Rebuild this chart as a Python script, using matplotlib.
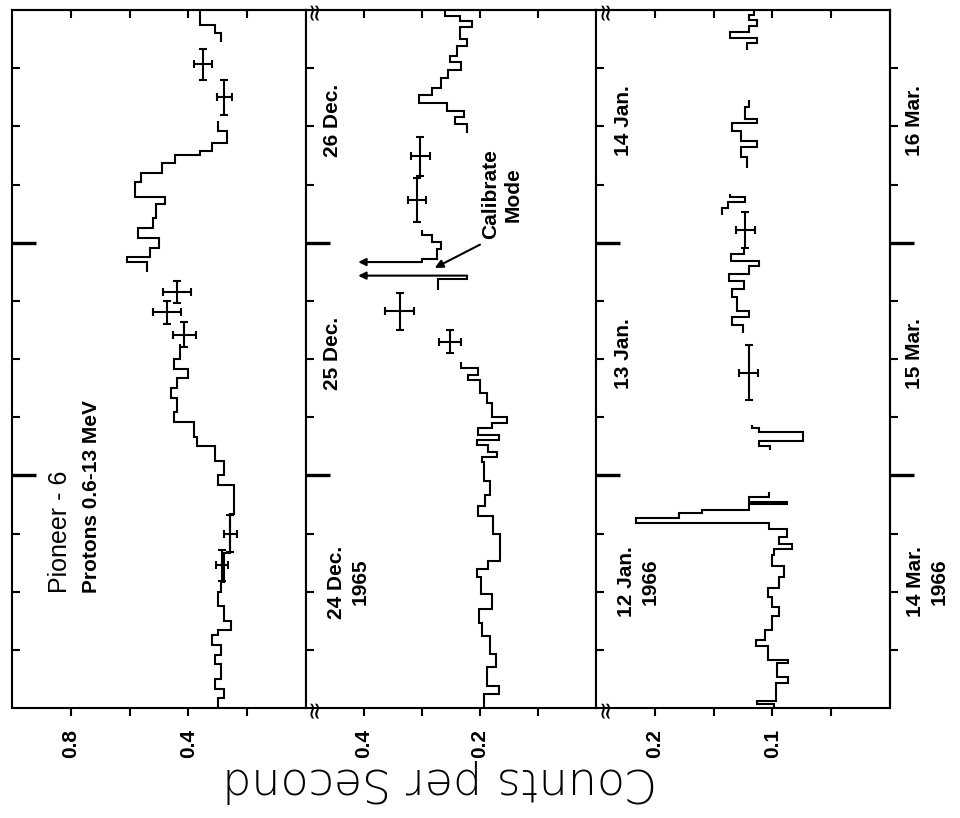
import matplotlib.pyplot as plt
import numpy as np
from matplotlib.transforms import blended_transform_factory

nan = np.nan

# time axis: hours from the start of the first day shown (3 days per panel)
# panel 1: Pioneer-6 protons, 24-26 Dec 1965
p1_edges = [0, 1, 2, 3, 4.5, 5.5, 6.5, 7.5, 8, 9, 10.5, 12, 13, 16, 20, 23, 24, 25.5, 27, 28,
            29.5, 30.5, 32, 33, 34, 35, 36, 37.5, 45, 46, 46.5, 47.5, 48.5, 49.5, 50.5, 52, 52.7,
            54.3, 55.2, 56.2, 57, 57.5, 58.3, 59.5, 60.5, 68.7, 69.6, 70.5, 72]
p1_vals = [0.30, 0.28, 0.31, 0.29, 0.31, 0.29, 0.32, 0.30, 0.255, 0.28,
           0.30, 0.29, 0.28, 0.257, 0.245, 0.30, 0.28, 0.31, 0.37, 0.38,
           0.45, 0.44, 0.46, 0.44, 0.40, 0.45, 0.43, nan, 0.54, 0.61,
           0.53, 0.50, 0.57, 0.52, 0.51, 0.48, 0.58, 0.56, 0.49, 0.445,
           0.36, 0.32, 0.27, 0.30, nan, 0.29, 0.31, 0.36]
p1_err_t = [14.7, 18.0, 38.5, 40.8, 42.9, 63.0, 66.4]
p1_err_c = [0.285, 0.257, 0.414, 0.473, 0.438, 0.278, 0.351]
p1_err_dt = [1.6, 1.9, 1.3, 1.2, 1.1, 1.8, 1.6]
p1_err_dc = [0.021, 0.023, 0.040, 0.047, 0.047, 0.025, 0.030]

# panel 2: second part of Dec 1965 record
p2_edges = [0, 1.4, 2.3, 4.2, 5.6, 7.4, 8.8, 10.2, 11.8, 13.5, 14.3, 15.2, 18.0, 19.8, 20.8,
            22.0, 23.4, 25.4, 25.9, 26.4, 27.1, 27.6, 28.2, 28.9, 29.4, 30.0, 31.5, 32.5, 33.8,
            34.4, 35.1, 35.7, 43.1, 44.3, 44.6, 46.0, 46.3, 47.3, 48.1, 48.8, 49.3, 59.3, 60.2,
            61.0, 61.6, 62.4, 63.2, 64.0, 65.0, 65.8, 66.6, 67.3, 68.3, 69.0, 70.2, 70.9, 71.4, 72]
p2_vals = [0.193, 0.167, 0.188, 0.172, 0.183, 0.197, 0.201, 0.180, 0.199, 0.206,
           0.187, 0.166, 0.178, 0.204, 0.192, 0.183, 0.193, 0.197, 0.170, 0.187,
           0.205, 0.168, 0.203, 0.180, 0.154, 0.180, 0.188, 0.200, 0.220, 0.203,
           0.232, nan, 0.272, 0.222, nan, 0.30, 0.274, 0.268, 0.283, 0.30,
           nan, 0.222, 0.243, 0.228, 0.257, 0.305, 0.282, 0.268, 0.255, 0.232,
           0.252, 0.240, 0.222, 0.235, 0.214, 0.235, 0.26]
p2_err_t = [37.8, 40.9, 52.4, 56.9]
p2_err_c = [0.252, 0.338, 0.309, 0.303]
p2_err_dt = [1.2, 1.9, 2.3, 2.0]
p2_err_dc = [0.019, 0.025, 0.016, 0.016]
# calibrate mode spikes (off scale)
cal_t = [44.6, 46.0]
cal_from = [0.222, 0.30]
cal_to = 0.41

# panel 3: 12-14 Jan 1966 / 14-16 Mar 1966
p3_edges = [0, 0.4, 0.7, 2.6, 3.2, 4.6, 5.0, 6.4, 7.0, 8.0, 9.5, 10.4, 11.5, 12.4, 13.5, 14.6,
            15.8, 16.4, 16.9, 17.6, 18.5, 19.1, 19.6, 20.1, 20.4, 21.0, 21.3, 21.8, 22.3, 26.6,
            27.0, 27.5, 28.5, 28.9, 29.2, 38.7, 39.5, 40.3, 41.0, 42.4, 43.2, 44.0, 44.8, 45.6,
            46.1, 46.8, 47.4, 50.9, 51.6, 52.2, 52.7, 53.0, 55.7, 56.8, 57.9, 58.5, 59.5, 60.3,
            60.8, 62.0, 62.7, 67.9, 68.6, 69.1, 69.7, 70.4, 71.0, 71.5, 72]
p3_vals = [0.099, 0.113, 0.097, 0.087, 0.096, 0.087, 0.104, 0.114, 0.106, 0.100,
           0.094, 0.100, 0.104, 0.094, 0.090, 0.100, 0.099, 0.083, 0.094, 0.088,
           0.103, 0.216, 0.179, 0.160, 0.120, 0.088, 0.120, 0.103, nan, 0.102,
           0.111, 0.074, 0.111, 0.117, nan, 0.125, 0.134, 0.120, 0.130, 0.134,
           0.124, 0.137, 0.120, 0.111, 0.135, 0.124, nan, 0.143, 0.138, 0.123,
           0.136, nan, 0.122, 0.127, 0.113, 0.127, 0.134, 0.113, 0.123, 0.120,
           nan, 0.122, 0.113, 0.136, 0.120, 0.113, 0.120, 0.116]
p3_err_t = [34.6, 49.3]
p3_err_c = [0.120, 0.123]
p3_err_dt = [2.8, 1.9]
p3_err_dc = [0.008, 0.008]

# count axes
p1_lim = (1.0, 0.0)
p1_ticks = [0.2, 0.4, 0.6, 0.8]
p1_labels = ['', '0.4', '', '0.8']
p2_lim = (0.5, 0.0)
p2_ticks = [0.1, 0.2, 0.3, 0.4]
p2_labels = ['', '0.2', '', '0.4']
p3_lim = (0.25, 0.0)
p3_ticks = [0.05, 0.1, 0.15, 0.2]
p3_labels = ['', '0.1', '', '0.2']

day_major = [24, 48]
day_minor = [6, 12, 18, 30, 36, 42, 54, 60, 66]

dec_days = ['24 Dec.\n1965', '25 Dec.', '26 Dec.']
jan_days = ['12 Jan.\n1966', '13 Jan.', '14 Jan.']
mar_days = ['14 Mar.\n1966', '15 Mar.', '16 Mar.']
day_label_t = [13.0, 36.6, 60.6]

LW = 1.5
bold = dict(family='Liberation Sans', fontweight='bold', fontsize=15)

fig = plt.figure(figsize=(9.6, 8.18), dpi=100)
W, H = 960.0, 818.0
bot = 110 / H
hgt = 698 / H
ax1 = fig.add_axes([12 / W, bot, 294 / W, hgt])
ax2 = fig.add_axes([306 / W, bot, 290 / W, hgt])
ax3 = fig.add_axes([596 / W, bot, 294 / W, hgt])

panels = [
    (ax1, p1_edges, p1_vals, p1_err_t, p1_err_c, p1_err_dt, p1_err_dc, p1_lim, p1_ticks, p1_labels),
    (ax2, p2_edges, p2_vals, p2_err_t, p2_err_c, p2_err_dt, p2_err_dc, p2_lim, p2_ticks, p2_labels),
    (ax3, p3_edges, p3_vals, p3_err_t, p3_err_c, p3_err_dt, p3_err_dc, p3_lim, p3_ticks, p3_labels),
]

for ax, edges, vals, et, ec, edt, edc, lim, ticks, labels in panels:
    ax.stairs(vals, edges, orientation='horizontal', baseline=None, color='k', lw=LW)
    ax.errorbar(ec, et, xerr=edc, yerr=edt, fmt='none', ecolor='k',
                elinewidth=LW, capsize=3, capthick=LW)
    ax.set_xlim(lim)
    ax.set_ylim(0, 72)
    ax.set_xticks(ticks)
    ax.set_xticklabels(labels, rotation=90, **bold)
    ax.tick_params(axis='x', direction='out', length=6, width=LW, pad=9)
    ax.set_yticks(day_major)
    ax.set_yticks(day_minor, minor=True)
    ax.tick_params(axis='y', which='major', direction='in', length=17, width=2.4,
                   labelleft=False)
    ax.tick_params(axis='y', which='minor', direction='in', length=6, width=LW)
    for s in ax.spines.values():
        s.set_linewidth(LW)
    top = ax.secondary_xaxis('top')
    top.set_xticks(ticks)
    top.tick_params(direction='in', length=6, width=LW, labeltop=False)
    top.spines['top'].set_linewidth(LW)

# right-hand time ticks of the last panel point outward
right = ax3.secondary_yaxis('right')
right.set_yticks(day_major)
right.set_yticks(day_minor, minor=True)
right.tick_params(which='major', direction='out', length=17, width=2.4, labelright=False)
right.tick_params(which='minor', direction='out', length=5.5, width=LW)
right.spines['right'].set_linewidth(LW)

# axis-break marks at the panel joints
for ax in (ax2, ax3):
    for yy in (0, 1):
        ax.text(0.03, yy, '\u2248', transform=ax.transAxes, rotation=90, ha='center',
                va='center', fontsize=17, clip_on=False)

# labels
tr1 = blended_transform_factory(ax1.transAxes, ax1.transData)
ax1.text(0.163, 11.9, 'Pioneer - 6', transform=tr1, rotation=90, ha='center', va='bottom',
         family='Liberation Sans', fontsize=18)
ax1.text(0.272, 11.9, 'Protons 0.6-13 MeV', transform=tr1, rotation=90, ha='center',
         va='bottom', **bold)

tr2 = blended_transform_factory(ax2.transAxes, ax2.transData)
tr3 = blended_transform_factory(ax3.transAxes, ax3.transData)
for i, t in enumerate(day_label_t):
    xo = 0.145 if '\n' in dec_days[i] else 0.093
    ax2.text(xo, t, dec_days[i], transform=tr2, rotation=90, ha='center', va='center',
             multialignment='center', linespacing=1.3, **bold)
    xo = 0.143 if '\n' in jan_days[i] else 0.092
    ax3.text(xo, t, jan_days[i], transform=tr3, rotation=90, ha='center', va='center',
             multialignment='center', linespacing=1.3, **bold)
    xo = 1.128 if '\n' in mar_days[i] else 1.085
    ax3.text(xo, t, mar_days[i], transform=tr3, rotation=90, ha='center', va='center',
             multialignment='center', linespacing=1.3, clip_on=False, **bold)

# calibrate mode
for t, c in zip(cal_t, cal_from):
    ax2.annotate('', xy=(cal_to, t), xytext=(c, t),
                 arrowprops=dict(arrowstyle='-|>', color='k', lw=LW, mutation_scale=11,
                                 shrinkA=0, shrinkB=0))
ax2.text(0.676, 53.0, 'Calibrate\nMode', transform=tr2, rotation=90, ha='center',
         va='center', multialignment='center', linespacing=1.2, **bold)
ax2.annotate('', xy=(0.278, 45.4), xytext=(0.20, 47.8),
             arrowprops=dict(arrowstyle='-|>', color='k', lw=LW, mutation_scale=12,
                             shrinkA=0, shrinkB=0))

fig.text(440 / W, 1 - 781 / H, 'Counts per Second', rotation=180, ha='center', va='center',
         fontsize=33, fontweight='light')

fig.savefig('out.png', dpi=100)
